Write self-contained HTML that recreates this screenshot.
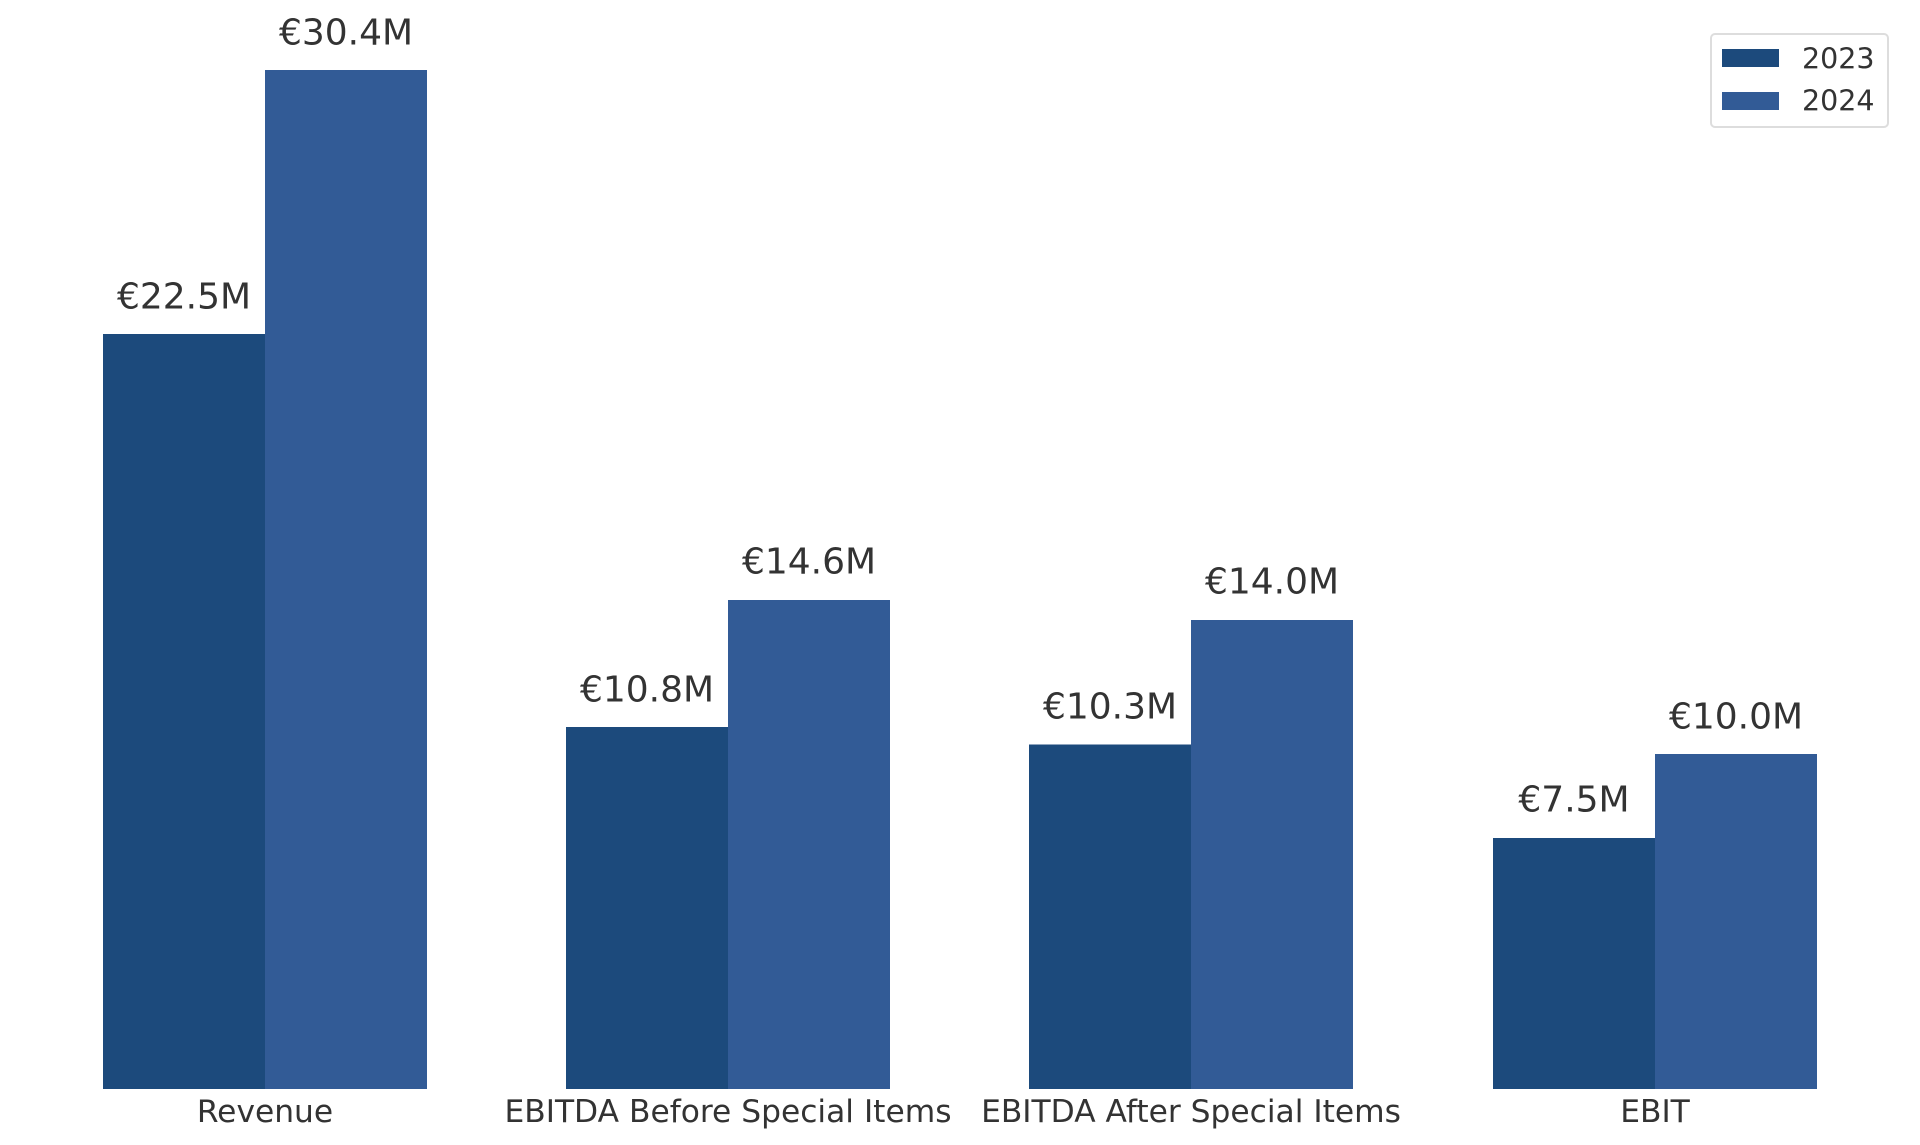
<!DOCTYPE html>
<html><head><meta charset="utf-8"><style>html,body{margin:0;padding:0;background:#fff}svg{display:block}</style></head>
<body>
<svg width="1920" height="1145" viewBox="0 0 1920 1145" xmlns="http://www.w3.org/2000/svg" font-family="'DejaVu Sans','Liberation Sans',sans-serif" fill="#333">
<rect width="1920" height="1145" fill="#fff"/>
<g fill="#1c4a7c">
<rect x="103" y="334" width="162" height="755"/>
<rect x="566" y="727" width="162" height="362"/>
<rect x="1029" y="744.5" width="162" height="344.5"/>
<rect x="1493" y="838" width="162" height="251"/>
</g>
<g fill="#325b96">
<rect x="265" y="70" width="162" height="1019"/>
<rect x="728" y="600" width="162" height="489"/>
<rect x="1191" y="620" width="162" height="469"/>
<rect x="1655" y="754" width="162" height="335"/>
</g>
<g font-size="36" text-anchor="middle" dominant-baseline="central" fill="#333">
<text x="184" y="297">€22.5M</text>
<text x="346" y="33">€30.4M</text>
<text x="647" y="690">€10.8M</text>
<text x="809" y="562">€14.6M</text>
<text x="1110" y="707">€10.3M</text>
<text x="1272" y="582">€14.0M</text>
<text x="1574" y="800">€7.5M</text>
<text x="1736" y="717">€10.0M</text>
</g>
<g font-size="31.3" text-anchor="middle" dominant-baseline="central" fill="#333">
<text x="265" y="1112">Revenue</text>
<text x="728" y="1112">EBITDA Before Special Items</text>
<text x="1191" y="1112">EBITDA After Special Items</text>
<text x="1655" y="1112">EBIT</text>
</g>
<rect x="1711" y="34" width="177" height="93" rx="4" fill="#fff" stroke="#ddd" stroke-width="2"/>
<rect x="1722" y="49" width="57" height="18" fill="#1c4a7c"/>
<rect x="1722" y="92" width="57" height="18" fill="#325b96"/>
<g font-size="28.5" dominant-baseline="central" fill="#333">
<text x="1802" y="59">2023</text>
<text x="1802" y="101">2024</text>
</g>
</svg>
</body></html>
